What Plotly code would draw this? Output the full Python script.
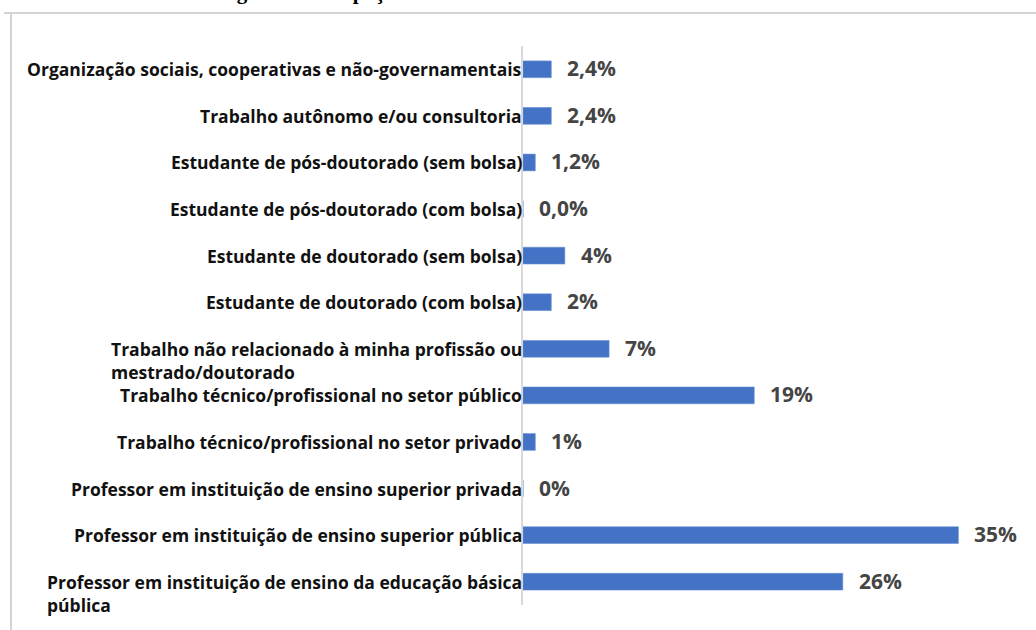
import plotly.graph_objects as go

categories = [
    "Organização sociais, cooperativas e não-governamentais",
    "Trabalho autônomo e/ou consultoria",
    "Estudante de pós-doutorado (sem bolsa)",
    "Estudante de pós-doutorado (com bolsa)",
    "Estudante de doutorado (sem bolsa)",
    "Estudante de doutorado (com bolsa)",
    "Trabalho não relacionado à minha profissão ou<br>mestrado/doutorado",
    "Trabalho técnico/profissional no setor público",
    "Trabalho técnico/profissional no setor privado",
    "Professor em instituição de ensino superior privada",
    "Professor em instituição de ensino superior pública",
    "Professor em instituição de ensino da educação básica<br>pública",
]
values = [2.3, 2.3, 1.0, 0.0, 3.4, 2.3, 7.0, 18.8, 1.0, 0.0, 35.4, 26.0]
value_labels = ["2,4%", "2,4%", "1,2%", "0,0%", "4%", "2%", "7%", "19%", "1%", "0%", "35%", "26%"]
title_text = "Figura 3 – Ocupação atual de trabalho ou estudo"

W, H = 1036, 630
ML, MR, MT, MB = 523, 6, 46, 25
PW, PH = W - ML - MR, H - MT - MB
px_per_unit = 12.3
xmax = PW / px_per_unit

def px_x(px):
    return (px - ML) / PW

def px_y(py):
    return 1 - (py - MT) / PH

fig = go.Figure()
fig.add_trace(go.Bar(
    x=values, y=categories, orientation="h",
    width=0.36,
    marker=dict(color="#4472C4", line=dict(color="#6a92d6", width=0.6)),
    hoverinfo="skip",
))

annotations = []
for cat, v, lab in zip(categories, values, value_labels):
    two = "<br>" in cat
    annotations.append(dict(
        x=0, xref="paper", y=cat, yref="y",
        text=cat, showarrow=False, xanchor="right",
        yanchor="top" if two else "middle",
        yshift=14 if two else 0, xshift=1,
        align="left",
        font=dict(family="Open Sans", size=17.5, color="#111111", weight="bold"),
    ))
    annotations.append(dict(
        x=v, xref="x", y=cat, yref="y",
        text=lab, showarrow=False, xanchor="left", yanchor="middle",
        xshift=14, yshift=1,
        font=dict(family="Open Sans", size=21, color="#454545", weight="bold"),
    ))

annotations.append(dict(
    x=px_x(437), xref="paper", y=px_y(6), yref="paper", text=title_text,
    showarrow=False,
    font=dict(family="Liberation Serif", size=21, color="#000000", weight="bold"),
    xanchor="center", yanchor="bottom",
))

shapes = [
    dict(type="line", xref="paper", yref="paper",
         x0=px_x(11), x1=px_x(11), y0=px_y(13), y1=px_y(H + 5),
         line=dict(color="#d4d4d4", width=2)),
    dict(type="line", xref="paper", yref="paper",
         x0=px_x(4), x1=px_x(W + 5), y0=px_y(13), y1=px_y(13),
         line=dict(color="#d4d4d4", width=2)),
]

fig.update_layout(
    width=W, height=H,
    margin=dict(l=ML, r=MR, t=MT, b=MB),
    paper_bgcolor="white", plot_bgcolor="white",
    showlegend=False,
    annotations=annotations,
    shapes=shapes,
    xaxis=dict(range=[0, xmax], visible=False, fixedrange=True),
    yaxis=dict(autorange="reversed", showticklabels=False, ticks="",
               showgrid=False, zeroline=False,
               showline=True, linecolor="#d9d9d9", linewidth=2, fixedrange=True),
)

fig.write_html(
    "out.html",
    config={"displayModeBar": False},
    post_script="document.body.style.margin='0';document.body.style.padding='0';",
)
